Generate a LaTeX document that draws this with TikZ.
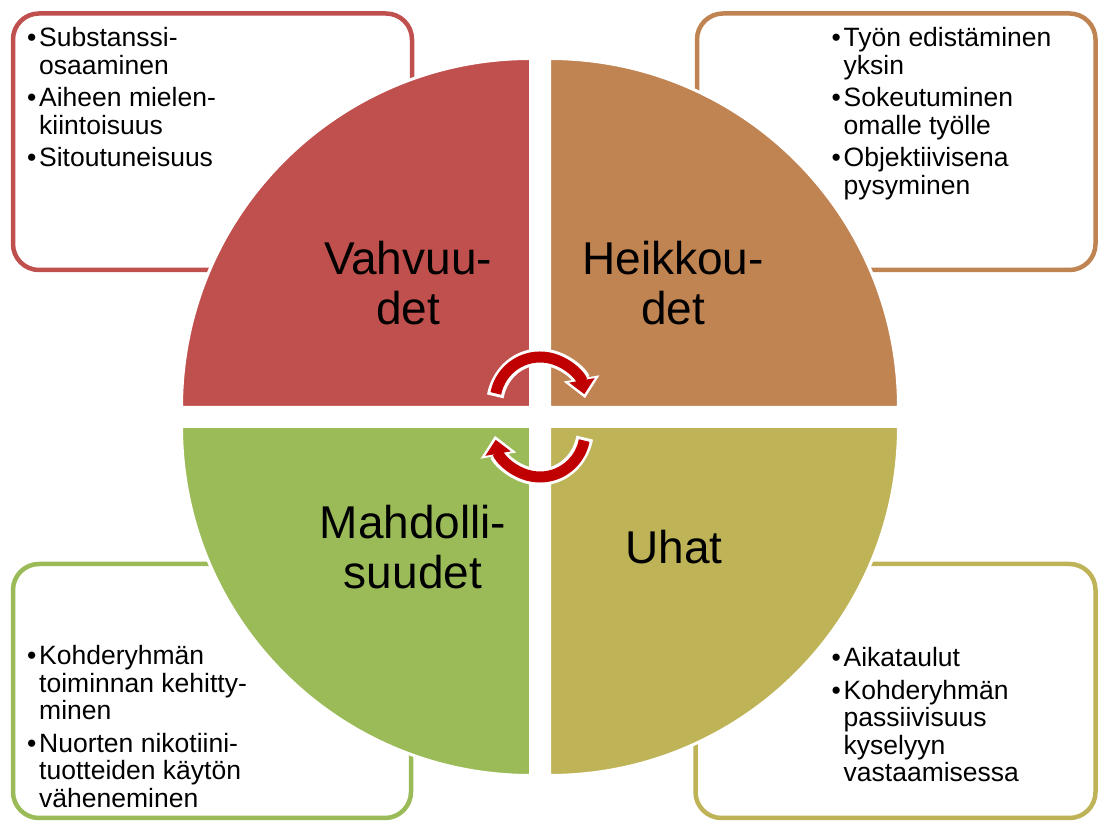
\documentclass[tikz,border=0pt]{standalone}
\usepackage{fontspec}
\setmainfont{Liberation Sans}
\usetikzlibrary{arrows.meta}
\definecolor{cRed}{RGB}{192,80,77}
\definecolor{cOrange}{RGB}{192,131,82}
\definecolor{cGreen}{RGB}{155,187,89}
\definecolor{cOlive}{RGB}{191,179,88}
\definecolor{cArrow}{RGB}{192,0,0}
\newcommand{\bul}{\makebox[12pt][l]{•}}
\begin{document}
\begin{tikzpicture}[x=1pt,y=1pt,
  box/.style={draw=#1, line width=4.5pt, rounded corners=26pt, fill=white},
  pie/.style={fill=#1, draw=white, line width=3pt},
  list/.style={anchor=base west, inner sep=0pt, font=\fontsize{26.5}{27.5}\selectfont},
  big/.style={anchor=base, inner sep=0pt, font=\fontsize{46}{50}\selectfont},
  arrowout/.style={white, line width=17pt, shorten >=-4pt, shorten <=-3pt, -{Triangle[length=20pt,width=35pt]}},
  arrowin/.style={cArrow, line width=11pt, -{Triangle[length=14pt,width=25pt]}}]
\useasboundingbox (0,0) rectangle (1100,821);
\fill[white] (0,0) rectangle (1100,821);
% corner boxes
\draw[box=cRed] (13,551) rectangle (412,807.5);
\draw[box=cOrange] (697,551) rectangle (1095.5,807.5);
\draw[box=cGreen] (13,3) rectangle (411,257);
\draw[box=cOlive] (695.5,3) rectangle (1095.5,257);
% quadrants
\def\R{349}
\path[pie=cRed] (530.5,413.5) -- ++(0,\R) arc[start angle=90,end angle=180,radius=\R] -- cycle;
\path[pie=cOrange] (549.5,413.5) -- ++(\R,0) arc[start angle=0,end angle=90,radius=\R] -- cycle;
\path[pie=cGreen] (530.5,394.5) -- ++(-\R,0) arc[start angle=180,end angle=270,radius=\R] -- cycle;
\path[pie=cOlive] (549.5,394.5) -- ++(0,-\R) arc[start angle=270,end angle=360,radius=\R] -- cycle;
% cycle arrows
\coordinate (topc) at (540,419);
\draw[arrowout] (topc) ++(169:45) arc[start angle=169,end angle=10,radius=45];
\draw[arrowin] (topc) ++(169:45) arc[start angle=169,end angle=10,radius=45];
\begin{scope}[rotate around={180:(540,404)}]
\coordinate (botc) at (540,419);
\draw[arrowout] (botc) ++(169:45) arc[start angle=169,end angle=10,radius=45];
\draw[arrowin] (botc) ++(169:45) arc[start angle=169,end angle=10,radius=45];
\end{scope}
% quadrant labels
\node[big] (lS) at (408,546) {\begin{tabular}[t]{@{}c@{}}Vahvuu-\\det\end{tabular}};
\node[big] (lW) at (673,546) {\begin{tabular}[t]{@{}c@{}}Heikkou-\\det\end{tabular}};
\node[big] (lO) at (413,282) {\begin{tabular}[t]{@{}c@{}}Mahdolli-\\suudet\end{tabular}};
\node[big] (lT) at (674,257) {\begin{tabular}[t]{@{}c@{}}Uhat\end{tabular}};
% lists
\node[list] (tS) at (27,774.3) {\begin{tabular}[t]{@{}l@{}l@{}}
\bul&Substanssi-\\&osaaminen\\[5pt]
\bul&Aiheen mielen-\\&kiintoisuus\\[5pt]
\bul&Sitoutuneisuus\end{tabular}};
\node[list] (tW) at (831.5,774.3) {\begin{tabular}[t]{@{}l@{}l@{}}
\bul&Työn edistäminen\\&yksin\\[5pt]
\bul&Sokeutuminen\\&omalle työlle\\[5pt]
\bul&Objektiivisena\\&pysyminen\end{tabular}};
\node[list] (tO) at (27,156) {\begin{tabular}[t]{@{}l@{}l@{}}
\bul&Kohderyhmän\\&toiminnan kehitty-\\&minen\\[5pt]
\bul&Nuorten nikotiini-\\&tuotteiden käytön\\&väheneminen\end{tabular}};
\node[list] (tT) at (831.5,154.3) {\begin{tabular}[t]{@{}l@{}l@{}}
\bul&Aikataulut\\[5pt]
\bul&Kohderyhmän\\&passiivisuus\\&kyselyyn\\&vastaamisessa\end{tabular}};
\end{tikzpicture}
\end{document}
